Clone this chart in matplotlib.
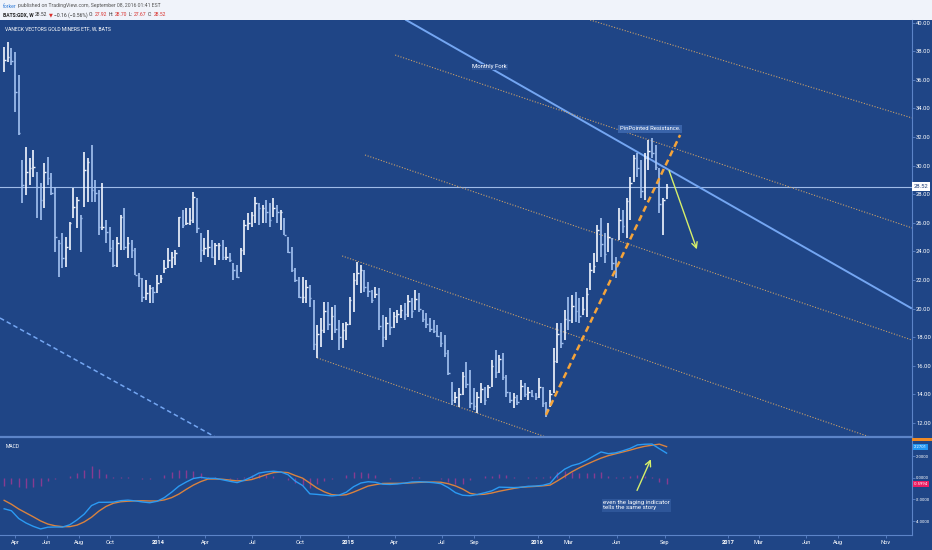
import numpy as np
import pandas as pd
import matplotlib
matplotlib.use('Agg')
import matplotlib.pyplot as plt
import matplotlib.dates as mdates
from matplotlib.patches import Rectangle
from matplotlib.lines import Line2D
from matplotlib.ticker import FormatStrFormatter

plt.rcParams['font.family'] = ['Roboto', 'DejaVu Sans']

# weekly GDX bars, first week starting 2013-03-11
first_week = '2013-03-11'
highs = [38.31, 38.66, 38.20, 37.96, 36.33, 30.39, 31.32, 30.51, 31.09, 29.57,
         28.76, 30.16, 30.62, 29.46, 28.52, 24.80, 25.26, 25.03, 26.08, 28.41,
         27.83, 26.54, 30.97, 30.51, 31.44, 28.99, 28.29, 28.76, 26.19, 25.73,
         24.80, 25.03, 26.54, 27.01, 25.03, 24.80, 24.21, 22.46, 22.11, 22.00,
         21.65, 21.53, 22.35, 22.35, 23.40, 24.21, 23.98, 24.10, 26.43, 26.89,
         27.01, 27.01, 28.17, 27.71, 25.26, 24.91, 25.49, 24.80, 24.56, 24.56,
         24.80, 24.33, 23.86, 23.16, 23.05, 24.21, 26.19, 26.66, 26.78, 27.83,
         27.36, 27.24, 27.59, 27.36, 27.71, 27.24, 26.89, 26.31, 25.03, 24.33,
         22.81, 22.23, 22.23, 22.00, 21.65, 20.60, 18.86, 19.32, 20.49, 20.49,
         20.14, 20.25, 19.21, 18.97, 19.09, 20.84, 22.47, 23.28, 23.05, 22.70,
         21.89, 21.30, 21.54, 21.42, 19.56, 19.44, 20.02, 19.79, 19.90, 20.25,
         20.37, 20.95, 20.72, 21.30, 21.07, 19.90, 19.67, 19.32, 19.21, 18.86,
         18.39, 18.16, 17.11, 14.89, 14.19, 14.43, 15.59, 16.29, 15.71, 14.43,
         14.19, 14.78, 14.54, 14.66, 16.41, 17.11, 16.76, 16.88, 15.36, 14.19,
         14.08, 13.96, 15.01, 14.78, 14.54, 14.31, 14.08, 15.13, 14.54, 13.49,
         14.31, 17.22, 18.97, 18.97, 19.90, 20.84, 20.95, 21.19, 20.72, 20.84,
         21.42, 23.17, 23.87, 25.85, 26.31, 25.27, 25.96, 24.92, 23.63, 27.01,
         26.90, 27.71, 29.23, 30.74, 30.86, 30.39, 30.86, 31.79, 31.91, 31.44,
         29.81, 27.71, 28.70]
lows = [36.57, 37.27, 37.03, 33.77, 32.14, 27.36, 27.94, 28.64, 29.22, 26.31,
        26.19, 27.01, 28.64, 27.94, 23.98, 22.23, 22.81, 22.93, 24.10, 26.31,
        25.61, 23.98, 27.13, 27.48, 27.48, 27.48, 25.14, 25.49, 24.56, 23.98,
        22.93, 22.93, 24.10, 24.10, 23.51, 23.51, 22.35, 21.53, 20.48, 20.60,
        20.37, 20.37, 21.07, 21.76, 22.46, 22.81, 22.81, 23.05, 24.33, 25.61,
        25.84, 25.84, 25.96, 25.26, 23.28, 23.75, 23.63, 23.51, 23.05, 23.40,
        23.40, 23.40, 23.28, 22.00, 22.11, 22.58, 23.75, 25.49, 25.73, 25.96,
        25.84, 25.96, 25.96, 25.73, 26.43, 25.96, 25.49, 25.14, 23.86, 22.58,
        21.88, 20.72, 20.40, 20.40, 20.14, 17.11, 16.52, 17.34, 18.27, 18.51,
        17.81, 18.27, 17.11, 17.22, 17.81, 18.86, 19.79, 21.65, 21.07, 21.19,
        20.84, 20.37, 20.72, 18.51, 17.34, 17.81, 18.16, 18.62, 18.97, 19.32,
        19.21, 19.44, 19.32, 19.90, 19.79, 19.09, 18.62, 18.39, 18.27, 18.04,
        17.34, 16.64, 15.36, 13.26, 13.38, 13.14, 13.96, 14.43, 13.03, 12.91,
        12.68, 13.38, 13.26, 13.73, 14.54, 15.13, 15.48, 15.01, 13.84, 13.38,
        13.03, 13.26, 13.61, 13.84, 13.61, 13.84, 13.61, 13.73, 13.14, 12.45,
        13.14, 14.08, 16.17, 17.22, 17.81, 18.51, 18.97, 19.09, 18.97, 19.55,
        19.44, 21.30, 22.47, 23.28, 23.63, 23.17, 23.98, 22.70, 22.12, 24.80,
        25.27, 24.92, 26.20, 28.88, 29.23, 27.71, 27.60, 29.69, 30.51, 29.69,
        26.66, 25.15, 27.67]
closes = [37.38, 37.60, 37.30, 35.17, 32.25, 28.64, 29.57, 29.81, 29.92, 28.52,
          27.59, 29.57, 29.11, 28.06, 25.03, 24.56, 23.51, 24.33, 25.96, 27.13,
          27.59, 26.31, 29.69, 30.27, 28.29, 28.06, 25.73, 25.73, 25.38, 24.21,
          23.05, 24.56, 26.43, 24.33, 24.56, 24.10, 22.35, 22.11, 20.83, 21.07,
          21.41, 21.18, 21.76, 22.11, 22.81, 23.40, 23.63, 23.86, 26.43, 25.84,
          25.96, 26.19, 27.83, 25.61, 24.10, 24.21, 24.33, 23.63, 24.45, 24.45,
          23.63, 23.63, 23.40, 22.70, 22.23, 24.10, 25.84, 25.96, 26.54, 27.36,
          27.01, 27.01, 26.78, 26.19, 27.01, 26.78, 26.78, 25.14, 23.98, 22.70,
          22.00, 20.83, 20.83, 21.50, 20.72, 17.50, 18.20, 18.50, 19.80, 18.90,
          19.50, 18.60, 18.00, 18.50, 18.90, 20.60, 22.00, 22.50, 22.70, 21.50,
          21.20, 20.60, 21.00, 18.80, 18.00, 19.00, 18.70, 19.50, 19.60, 19.90,
          19.60, 20.50, 19.80, 20.70, 20.00, 19.30, 18.90, 18.60, 18.40, 18.10,
          17.60, 16.90, 15.50, 13.60, 13.80, 14.00, 15.30, 14.70, 13.40, 13.20,
          13.80, 14.40, 13.60, 14.50, 16.00, 15.60, 16.50, 15.20, 14.20, 13.60,
          13.80, 13.50, 14.60, 14.00, 14.20, 13.90, 13.80, 14.50, 13.40, 13.00,
          14.00, 16.30, 18.20, 17.60, 19.30, 19.20, 20.20, 19.80, 19.50, 20.00,
          21.00, 22.70, 23.00, 25.50, 24.50, 23.80, 25.00, 23.20, 23.00, 26.20,
          25.80, 27.50, 28.80, 30.50, 29.80, 28.20, 30.50, 31.00, 30.90, 29.90,
          27.30, 27.60, 28.52]
last_price = 28.52

# MACD read every second week (week offsets from first_week)
macd_weeks = list(range(0, 183, 2))
macd_line = [-2.87, -3.05, -3.77, -4.18, -4.49, -4.73, -4.57, -4.55, -4.56, -4.35,
             -3.90, -3.36, -2.57, -2.27, -2.27, -2.25, -2.12, -2.07, -2.14, -2.24,
             -2.31, -2.18, -1.84, -1.34, -0.78, -0.40, -0.07, 0.04, -0.06, -0.06,
             -0.19, -0.33, -0.45, -0.23, 0.07, 0.43, 0.54, 0.60, 0.53, 0.28,
             -0.32, -0.72, -1.49, -1.54, -1.61, -1.68, -1.61, -1.34, -0.83, -0.49,
             -0.37, -0.42, -0.60, -0.62, -0.58, -0.50, -0.39, -0.37, -0.40, -0.46,
             -0.55, -0.91, -1.38, -1.62, -1.66, -1.55, -1.39, -1.21, -0.87, -0.89,
             -0.91, -0.88, -0.79, -0.77, -0.70, -0.52, 0.26, 0.79, 1.12, 1.30,
             1.62, 2.01, 2.38, 2.22, 2.30, 2.49, 2.71, 3.03, 3.09, 3.11,
             2.68, 2.27]
signal_line = [-2.09, -2.45, -2.89, -3.25, -3.61, -3.99, -4.28, -4.44, -4.52, -4.52,
               -4.38, -4.08, -3.65, -3.09, -2.65, -2.36, -2.22, -2.17, -2.14, -2.13,
               -2.15, -2.15, -2.05, -1.84, -1.51, -1.08, -0.68, -0.36, -0.12, -0.12,
               -0.14, -0.22, -0.29, -0.26, -0.17, 0.05, 0.28, 0.47, 0.52, 0.47,
               0.20, -0.04, -0.50, -0.96, -1.31, -1.56, -1.62, -1.57, -1.33, -1.05,
               -0.77, -0.64, -0.53, -0.52, -0.52, -0.51, -0.47, -0.43, -0.41, -0.40,
               -0.42, -0.55, -0.76, -1.05, -1.44, -1.56, -1.53, -1.41, -1.25, -1.12,
               -0.99, -0.88, -0.84, -0.80, -0.75, -0.68, -0.29, 0.13, 0.55, 0.91,
               1.23, 1.53, 1.81, 2.04, 2.21, 2.38, 2.55, 2.74, 2.90, 3.00,
               3.10, 2.87]
macd_last = 2.2701
hist_last = -0.5994

# drawing tools: (date, price) anchors
fork_median = [('2015-04-23', 40.18), ('2017-12-19', 20.04)]
fork_lower = [('2013-03-03', 19.34), ('2014-04-21', 11.02)]
dotted_lines = [
    [('2016-04-11', 40.18), ('2017-12-21', 33.33)],
    [('2015-04-02', 37.73), ('2017-12-21', 25.64)],
    [('2015-02-03', 30.74), ('2017-12-21', 17.80)],
    [('2014-12-21', 23.68), ('2017-10-01', 11.02)],
    [('2014-11-03', 16.55), ('2016-01-17', 11.02)],
]
trend_line = [('2016-01-17', 12.56), ('2016-10-01', 32.14)]
price_arrow = [('2016-09-08', 29.83), ('2016-11-04', 23.96)]
macd_arrow = [('2016-07-08', -1.41), ('2016-08-08', 1.94)]

date_ticks = ['2013-04-01', '2013-06-01', '2013-08-01', '2013-10-01', '2014-01-01',
              '2014-04-01', '2014-07-01', '2014-10-01', '2015-01-01', '2015-04-01',
              '2015-07-01', '2015-09-01', '2016-01-01', '2016-03-01', '2016-06-01',
              '2016-09-01', '2017-01-01', '2017-03-01', '2017-06-01', '2017-08-01',
              '2017-11-01']

bg = '#1f4586'
edge = '#5c84c8'
W, H = 932, 550


def fy(py):
    return 1 - py / H


def dn(d):
    return mdates.date2num(pd.Timestamp(d))


fig = plt.figure(figsize=(W / 100, H / 100), dpi=100, facecolor=bg)
renderer = fig.canvas.get_renderer()


def fit_size(txt, target_px, weight='normal'):
    # font size that makes txt about target_px wide
    t = fig.text(0, 0, txt, fontsize=10, fontweight=weight)
    w = t.get_window_extent(renderer).width
    t.remove()
    return 10 * target_px / w


fig.add_artist(Rectangle((0, fy(20)), 1, 20 / H, transform=fig.transFigure,
                         facecolor='#f0f3fa', edgecolor='none', zorder=0))

ax1 = fig.add_axes([0, fy(437), 912 / W, 417 / H], facecolor=bg)
ax2 = fig.add_axes([0, fy(535), 912 / W, 98 / H], facecolor=bg, sharex=ax1)

axis_fs = fit_size('38.00', 14.5)
macd_fs = fit_size('\u22124.0000', 15)
date_fs = fit_size('2014', 13, 'bold')

# price bars
dates = mdates.date2num(pd.date_range(first_week, periods=len(closes), freq='7D'))
prev = [closes[0]] + closes[:-1]
colors = ['#f2f6ff' if c >= p else '#a4c3f2' for c, p in zip(closes, prev)]
ax1.vlines(dates, lows, highs, colors=colors, lw=1.2, zorder=4)
ax1.hlines(closes, dates, dates + 3, colors=colors, lw=1.0, zorder=4)

ax1.axhline(last_price, color='#9fbbe8', lw=0.8, zorder=2)

ax1.plot([dn(d) for d, _ in fork_median], [p for _, p in fork_median],
         color='#74a6f2', lw=1.4, zorder=3)
ax1.plot([dn(d) for d, _ in fork_lower], [p for _, p in fork_lower],
         color='#74a6f2', lw=1.1, ls=(0, (3, 2)), zorder=3)
for seg in dotted_lines:
    ax1.plot([dn(d) for d, _ in seg], [p for _, p in seg],
             color='#c9a06a', lw=0.8, ls=(0, (1, 1.5)), zorder=3)
ax1.plot([dn(d) for d, _ in trend_line], [p for _, p in trend_line],
         color='#f5a43a', lw=1.8, ls=(0, (2.5, 1.6)), zorder=5)
ax1.annotate('', xy=(dn(price_arrow[1][0]), price_arrow[1][1]),
             xytext=(dn(price_arrow[0][0]), price_arrow[0][1]),
             arrowprops=dict(arrowstyle='->', color='#d6ef6a', lw=1.0), zorder=6)

ax1.text(dn('2015-10-01'), 36.9, 'Monthly Fork', color='white',
         fontsize=fit_size('Monthly Fork', 35), ha='center', va='center', zorder=6,
         bbox=dict(boxstyle='square,pad=0.15', fc='#2c5396', ec='none'))
ax1.text(dn('2016-08-04'), 32.56, 'PinPointed Resistance.', color='white',
         fontsize=fit_size('PinPointed Resistance.', 60), ha='center', va='center', zorder=6,
         bbox=dict(boxstyle='square,pad=0.25', fc='#3a64aa', ec='none'))
title = 'VANECK VECTORS GOLD MINERS ETF, W, BATS'
ax1.text(0.006, 0.978, title, transform=ax1.transAxes,
         color='white', fontsize=fit_size(title, 106), ha='left', va='center')

ax1.set_ylim(11.02, 40.18)
ax1.set_xlim(dn('2013-03-03'), dn('2017-12-21'))
ax1.yaxis.tick_right()
ax1.set_yticks(np.arange(12, 41, 2))
ax1.yaxis.set_major_formatter(FormatStrFormatter('%.2f'))
ax1.tick_params(axis='y', colors=edge, labelcolor='white', labelsize=axis_fs,
                length=2.2, width=0.6, pad=0.8)
ax1.tick_params(axis='x', bottom=False, labelbottom=False)
for s in ['top', 'left', 'bottom']:
    ax1.spines[s].set_visible(False)
ax1.spines['right'].set_color(edge)
ax1.spines['right'].set_linewidth(0.8)
ax1.text(1.002, last_price, '%.2f' % last_price, color='#1f3f7a', fontsize=axis_fs,
         transform=ax1.get_yaxis_transform(), ha='left', va='center', zorder=10,
         clip_on=False, bbox=dict(boxstyle='square,pad=0.3', fc='white', ec='none'))

# MACD panel
mdates_w = dates[macd_weeks]
hist = [m - s for m, s in zip(macd_line, signal_line)]
ax2.vlines(mdates_w, 0, hist, colors='#9a3a92', lw=1.0, alpha=0.85, zorder=2)
ax2.plot(mdates_w, signal_line, color='#d9823f', lw=1.0, zorder=3)
ax2.plot(mdates_w, macd_line, color='#2b9af3', lw=1.0, zorder=4)
ax2.annotate('', xy=(dn(macd_arrow[1][0]), macd_arrow[1][1]),
             xytext=(dn(macd_arrow[0][0]), macd_arrow[0][1]),
             arrowprops=dict(arrowstyle='->', color='#d6ef6a', lw=1.0), zorder=6)
note = 'even the laging indicator\ntells the same story'
ax2.text(dn('2016-05-06'), -2.55, note, color='white',
         fontsize=fit_size('even the laging indicator', 66), ha='left', va='center',
         linespacing=1.0, zorder=6,
         bbox=dict(boxstyle='square,pad=0.25', fc='#2e5699', ec='none'))
ax2.text(0.006, 0.9, 'MACD', transform=ax2.transAxes, color='white',
         fontsize=fit_size('MACD', 14), ha='left', va='center')

ax2.set_ylim(-5.29, 3.76)
ax2.yaxis.tick_right()
ax2.set_yticks([2, 0, -2, -4])
ax2.yaxis.set_major_formatter(FormatStrFormatter('%.4f'))
ax2.tick_params(axis='y', colors=edge, labelcolor='white', labelsize=macd_fs,
                length=2.0, width=0.6, pad=0.6)
for s in ['top', 'left']:
    ax2.spines[s].set_visible(False)
for s in ['right', 'bottom']:
    ax2.spines[s].set_color(edge)
    ax2.spines[s].set_linewidth(0.8)
# value boxes on the right edge (shifted like the platform does to avoid overlap)
ax2.text(1.002, 2.83, '%.4f' % macd_last, color='white', fontsize=macd_fs,
         transform=ax2.get_yaxis_transform(), ha='left', va='center', zorder=10,
         clip_on=False, bbox=dict(boxstyle='square,pad=0.3', fc='#2196f3', ec='none'))
ax2.text(1.002, hist_last, '%.4f' % hist_last, color='white', fontsize=macd_fs,
         transform=ax2.get_yaxis_transform(), ha='left', va='center', zorder=10,
         clip_on=False, bbox=dict(boxstyle='square,pad=0.3', fc='#e91e63', ec='none'))
fig.add_artist(Rectangle((912 / W, fy(441)), 20 / W, 3.5 / H, transform=fig.transFigure,
                         facecolor='#f08a24', edgecolor='none', zorder=5))

tick_nums = [dn(d) for d in date_ticks]
tick_labels = [pd.Timestamp(d).strftime('%Y') if pd.Timestamp(d).month == 1
               else pd.Timestamp(d).strftime('%b') for d in date_ticks]
ax2.set_xticks(tick_nums)
ax2.set_xticklabels(tick_labels)
ax2.tick_params(axis='x', colors=edge, labelcolor='white', labelsize=date_fs,
                length=2, width=0.6, pad=1.5)
for lab in ax2.get_xticklabels():
    if lab.get_text().isdigit():
        lab.set_fontweight('bold')

# separator between panels
fig.add_artist(Line2D([0, 912 / W], [fy(437), fy(437)], transform=fig.transFigure,
                      color=edge, lw=1.6, zorder=8))


def header(y, pieces, target_px):
    full = ' '.join(p[0] for p in pieces)
    size = fit_size(full, target_px)
    x = 3 / W
    for txt, col, wt in pieces:
        t = fig.text(x, y, txt, color=col, fontsize=size, fontweight=wt,
                     ha='left', va='center')
        x += t.get_window_extent(renderer).width / W + 1.4 / W


header(fy(6), [('forker', '#2f7bd8', 'normal'),
               ('published on TradingView.com, September 08, 2016 01:41 EST', '#555555', 'normal')], 158)
header(fy(15), [('BATS:GDX, W', '#222222', 'bold'), ('28.52', '#333333', 'normal'),
                ('\u25bc', '#d9302c', 'normal'), ('\u22120.16 (\u22120.56%)', '#333333', 'normal'),
                ('O:', '#333333', 'normal'), ('27.92', '#d9302c', 'normal'),
                ('H:', '#333333', 'normal'), ('28.70', '#d9302c', 'normal'),
                ('L:', '#333333', 'normal'), ('27.67', '#d9302c', 'normal'),
                ('C:', '#333333', 'normal'), ('28.52', '#d9302c', 'normal')], 160)

fig.savefig('out.png', dpi=100, facecolor=bg)
